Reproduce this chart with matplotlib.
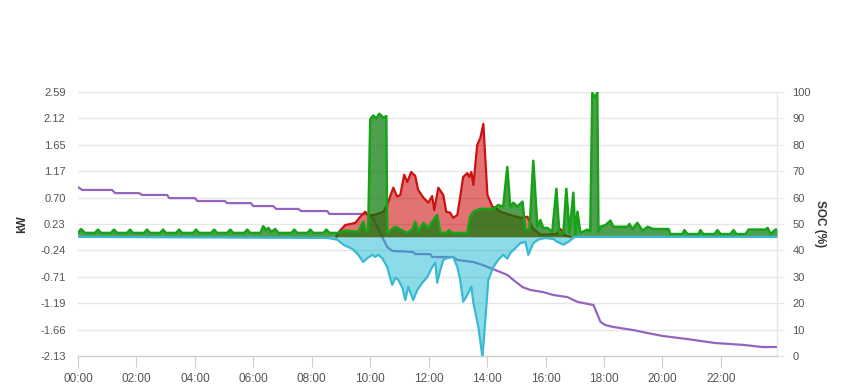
import matplotlib
matplotlib.use("Agg")
import matplotlib.pyplot as plt
import numpy as np

plt.rcParams['font.family'] = ['Liberation Sans', 'DejaVu Sans']

# ---- data (hours of day, kW / %) ----
x_ticks = [0, 2, 4, 6, 8, 10, 12, 14, 16, 18, 20, 22]
x_tick_labels = ["00:00", "02:00", "04:00", "06:00", "08:00", "10:00",
                 "12:00", "14:00", "16:00", "18:00", "20:00", "22:00"]
kw_ticks = [2.59, 2.12, 1.65, 1.17, 0.70, 0.23, -0.24, -0.71, -1.19, -1.66, -2.13]
soc_ticks = [100, 90, 80, 70, 60, 50, 40, 30, 20, 10, 0]

soc_t = [0.00, 0.14, 1.16, 1.27, 2.09, 2.19, 3.05, 3.12, 4.00, 4.08, 5.03, 5.10,
         5.92, 5.99, 6.68, 6.78, 7.53, 7.64, 8.53, 8.60, 9.93, 10.07, 10.58, 10.75,
         11.47, 11.54, 12.05, 12.12, 12.84, 12.98, 13.53, 13.84, 14.18, 14.45, 14.69,
         14.90, 15.21, 15.48, 15.92, 16.27, 16.75, 17.09, 17.64, 17.88, 18.05, 18.32,
         19.01, 19.49, 20.00, 20.86, 21.82, 22.77, 23.42, 23.92]
soc_v = [64.0, 62.9, 62.9, 61.7, 61.7, 61.0, 61.0, 59.8, 59.8, 58.7, 58.7, 57.9,
         57.9, 56.8, 56.8, 55.7, 55.7, 54.9, 54.9, 53.8, 53.8, 52.7, 41.3, 39.8,
         39.4, 38.6, 38.6, 37.5, 37.5, 36.4, 35.6, 34.5, 33.0, 31.8, 30.7,
         28.8, 26.1, 25.0, 24.2, 23.1, 22.3, 20.5, 19.3, 12.9, 11.7, 11.0,
         9.8, 8.7, 7.6, 6.4, 4.9, 4.2, 3.4, 3.4]

green_t = [0.00, 0.10, 0.24, 0.58, 0.68, 0.79, 1.13, 1.23, 1.34, 1.68, 1.78, 1.88,
           2.26, 2.36, 2.47, 2.81, 2.91, 3.01, 3.36, 3.46, 3.56, 3.94, 4.04, 4.14,
           4.55, 4.66, 4.76, 5.10, 5.21, 5.31, 5.69, 5.79, 5.89, 6.24, 6.34, 6.44,
           6.51, 6.62, 6.75, 6.86, 7.30, 7.40, 7.50, 7.85, 7.95, 8.05, 8.40, 8.50,
           8.60, 8.90, 9.14, 9.59, 9.76, 9.86, 9.93, 10.00, 10.10, 10.21, 10.31,
           10.45, 10.55, 10.58, 10.86, 11.03, 11.27, 11.44, 11.54, 11.64, 11.82,
           11.99, 12.12, 12.29, 12.40, 12.60, 12.70, 12.81, 13.32, 13.42, 13.53,
           13.77, 14.21, 14.38, 14.55, 14.69, 14.79, 14.90, 15.03, 15.21, 15.31,
           15.45, 15.58, 15.72, 15.82, 15.92, 16.06, 16.23, 16.37, 16.47, 16.61,
           16.71, 16.82, 16.95, 17.02, 17.09, 17.19, 17.43, 17.53, 17.60, 17.71,
           17.77, 17.81, 17.88, 18.05, 18.22, 18.32, 18.80, 18.87, 18.97, 19.14,
           19.32, 19.49, 19.69, 20.21, 20.27, 20.68, 20.75, 20.86, 21.23, 21.30,
           21.40, 21.78, 21.88, 21.99, 22.33, 22.43, 22.53, 22.84, 22.95, 23.53,
           23.60, 23.70, 23.87, 23.92]
green_v = [0.07, 0.14, 0.07, 0.07, 0.13, 0.07, 0.07, 0.13, 0.07, 0.07, 0.13, 0.07,
           0.07, 0.13, 0.07, 0.07, 0.13, 0.07, 0.07, 0.13, 0.07, 0.07, 0.13, 0.07,
           0.07, 0.13, 0.07, 0.07, 0.13, 0.07, 0.07, 0.13, 0.07, 0.07, 0.19, 0.12,
           0.16, 0.09, 0.14, 0.07, 0.07, 0.13, 0.07, 0.07, 0.13, 0.07, 0.07, 0.13,
           0.07, 0.07, 0.11, 0.09, 0.27, 0.10, 0.10, 2.10, 2.17, 2.12, 2.20,
           2.13, 2.16, 0.07, 0.18, 0.13, 0.07, 0.13, 0.27, 0.09, 0.25,
           0.16, 0.27, 0.39, 0.07, 0.07, 0.12, 0.07, 0.07, 0.36, 0.45,
           0.50, 0.50, 0.57, 0.54, 1.25, 0.54, 0.61, 0.54, 0.63, 0.13,
           0.13, 1.36, 0.18, 0.30, 0.16, 0.16, 0.09, 0.86, 0.07, 0.07,
           0.86, 0.07, 0.79, 0.04, 0.45, 0.07, 0.13, 0.09, 2.57, 2.49,
           2.59, 0.09, 0.18, 0.21, 0.29, 0.18, 0.18, 0.23, 0.14, 0.25,
           0.11, 0.18, 0.14, 0.14, 0.05, 0.05, 0.12, 0.05, 0.05, 0.12,
           0.05, 0.05, 0.12, 0.05, 0.05, 0.12, 0.05, 0.05, 0.13, 0.13,
           0.16, 0.05, 0.13, 0.13]

red_t = [8.84, 8.90, 9.14, 9.32, 9.49, 9.66, 9.83, 9.93, 10.20, 10.45, 10.58,
         10.79, 10.92, 11.03, 11.16, 11.27, 11.40, 11.54, 11.64, 11.82, 11.99, 12.12,
         12.19, 12.33, 12.50, 12.60, 12.74, 12.84, 12.98, 13.08, 13.18, 13.32, 13.39,
         13.46, 13.53, 13.66, 13.77, 13.87, 14.01, 14.18, 14.28, 14.45, 14.79, 15.14,
         15.38, 15.55, 15.82, 16.37, 16.51, 16.68, 16.85]
red_v = [0.00, 0.07, 0.21, 0.23, 0.25, 0.36, 0.45, 0.38, 0.40, 0.45, 0.57,
         0.88, 0.72, 0.75, 1.11, 0.98, 1.16, 1.09, 0.84, 0.70, 0.61, 0.73,
         0.48, 0.88, 0.75, 0.45, 0.43, 0.34, 0.39, 0.72, 1.07, 1.14, 1.07,
         1.16, 0.93, 1.64, 1.77, 2.02, 0.75, 0.54, 0.52, 0.45, 0.39, 0.34,
         0.36, 0.16, 0.04, 0.05, 0.14, 0.02, 0.00]

cyan_t = [0.00, 8.53, 8.87, 9.08, 9.32, 9.42, 9.59, 9.76, 9.90, 10.07, 10.17, 10.27,
          10.41, 10.58, 10.75, 10.86, 10.96, 11.10, 11.20, 11.30, 11.47, 11.61, 11.78,
          11.95, 12.12, 12.23, 12.29, 12.40, 12.50, 12.64, 12.84, 12.98, 13.08, 13.18,
          13.32, 13.46, 13.53, 13.70, 13.84, 13.94, 14.04, 14.21, 14.38, 14.55, 14.69,
          14.79, 14.97, 15.14, 15.31, 15.41, 15.58, 15.75, 15.99, 16.27, 16.40, 16.61,
          16.78, 16.95, 17.02, 23.92]
cyan_v = [0.00, -0.02, -0.05, -0.14, -0.20, -0.23, -0.32, -0.45, -0.38, -0.32, -0.36, -0.32,
          -0.38, -0.54, -0.86, -0.73, -0.77, -0.91, -1.13, -0.89, -1.13, -0.95, -0.82,
          -0.72, -0.54, -0.46, -0.82, -0.59, -0.41, -0.38, -0.36, -0.54, -0.77, -1.16,
          -1.04, -0.89, -1.18, -1.61, -2.15, -1.48, -0.77, -0.54, -0.41, -0.32, -0.39,
          -0.29, -0.20, -0.11, -0.09, -0.32, -0.11, -0.05, -0.02, -0.04, -0.09, -0.14,
          -0.09, -0.02, 0.00, 0.00]

# ---- figure ----
fig = plt.figure(figsize=(8.49, 3.90), dpi=100)
ax = fig.add_axes([0.0919, 0.0872, 0.8233, 0.6769])
ax2 = ax.twinx()

ax.set_zorder(ax2.get_zorder() + 1)
ax.patch.set_visible(False)

grid_c = '#e6e6e6'
text_c = '#555555'

# SOC line (right axis, drawn beneath power areas)
ax2.plot(soc_t, soc_v, color='#9565bd', lw=1.6, zorder=2)

# power areas
ax.fill_between(red_t, red_v, 0, color='#cc0000', alpha=0.55, lw=0, zorder=3)
ax.plot(red_t, red_v, color='#cc1111', lw=1.6, zorder=4)
ax.fill_between(green_t, green_v, 0, color='#0a7a0a', alpha=0.72, lw=0, zorder=5)
ax.plot(green_t, green_v, color='#17a317', lw=1.8, zorder=6)
ax.fill_between(cyan_t, cyan_v, 0, color='#1bb8d2', alpha=0.5, lw=0, zorder=7)
ax.plot(cyan_t, cyan_v, color='#3ab9d3', lw=1.6, zorder=8)

ax.set_xlim(0, 23.92)
ax.set_ylim(-2.13, 2.59)
ax2.set_ylim(0, 100)

ax.set_yticks(kw_ticks)
ax.set_yticklabels([f"{v:.2f}" for v in kw_ticks])
ax2.set_yticks(soc_ticks)
ax2.set_yticklabels([str(v) for v in soc_ticks])
ax.set_xticks(x_ticks)
ax.set_xticklabels(x_tick_labels)

# gridlines (horizontal only) on the back axis
for v in kw_ticks[:-1]:
    ax2.axhline((v + 2.13) / 4.72 * 100, color=grid_c, lw=1.0, zorder=0)

for a in (ax, ax2):
    for s in a.spines.values():
        s.set_visible(False)

ax2.spines['right'].set_visible(True)
ax2.spines['right'].set_color(grid_c)
ax2.spines['right'].set_linewidth(1.0)
ax.spines['bottom'].set_visible(True)
ax.spines['bottom'].set_color('#cccccc')
ax.spines['bottom'].set_linewidth(1.0)

ax.tick_params(axis='y', length=0, pad=9, labelsize=8, labelcolor=text_c)
ax2.tick_params(axis='y', length=5, color=grid_c, pad=6, labelsize=8, labelcolor=text_c)
ax.tick_params(axis='x', length=8, color='#cccccc', pad=4, labelsize=8.5, labelcolor=text_c)

ax.set_ylabel("kW", fontsize=8.5, fontweight='bold', color='#333333')
ax.yaxis.set_label_coords(-0.0715, 0.5)
ax2.set_ylabel("SOC (%)", fontsize=8.5, fontweight='bold', color='#333333',
               rotation=270, va='center')
ax2.yaxis.set_label_coords(1.0615, 0.5)

fig.savefig("out.png", dpi=100)
